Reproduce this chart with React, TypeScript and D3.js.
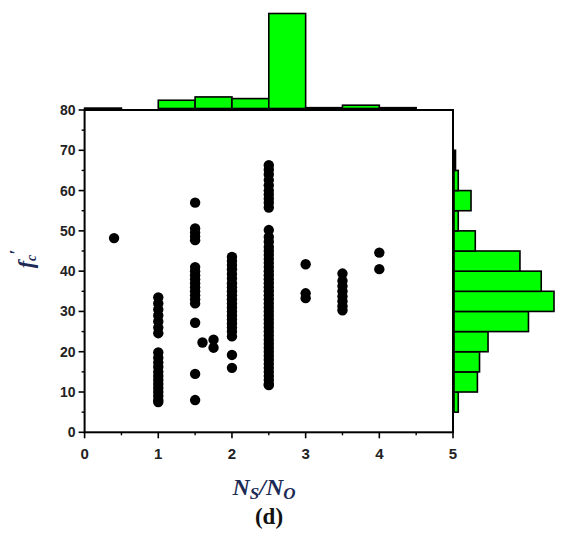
import React from "react";
import * as d3 from "d3";

// ---- data ----
const columnX = [0.4, 1, 1.5, 1.6, 1.75, 2, 2.5, 3, 3.5, 4];
const columnY: number[][] = [
  [48.2],
  [33.5, 32, 30.5, 29, 27.5, 26, 24.6, 19.8, 18.5, 17.3, 16.2, 15, 14, 13, 12, 11, 10, 9, 8, 7.5],
  [57, 50.6, 49.6, 48.6, 47.7, 41, 40, 39, 38, 37, 36, 35, 34, 33, 32, 27.2, 14.5, 8],
  [22.3],
  [23, 21],
  [43.5, 42.5, 41.5, 40.5, 39.3, 38.2, 37, 36, 35, 34, 33, 32, 31, 30, 29, 28, 27, 26, 25, 23.8, 19.2, 16],
  [66.3, 65.2, 64, 62.6, 61.3, 60, 59, 58, 57, 55.8, 50.2, 48.5, 47.3, 46, 45, 44, 43, 42, 41, 40, 39, 38, 37, 36, 35, 34, 33, 32, 31, 30, 29, 28, 27, 26, 25, 24, 23, 22, 21, 20, 19, 18, 17, 16, 15, 14, 13, 12, 11.7],
  [41.7, 34.5, 33.3],
  [39.4, 37.6, 36.3, 35, 33.7, 32.5, 31.3, 30.3],
  [44.6, 40.5],
];

const topBinEdges = [0, 0.5, 1, 1.5, 2, 2.5, 3, 3.5, 4, 4.5, 5];
const topCounts = [1, 0, 20, 28, 24, 230, 2, 8, 2, 0];

const rightBinEdges = [0, 5, 10, 15, 20, 25, 30, 35, 40, 45, 50, 55, 60, 65, 70, 75, 80];
const rightCounts = [0, 2, 11, 12, 16, 35, 47, 41, 31, 10, 2, 8, 2, 0.7, 0, 0];

const xTicks = [0, 1, 2, 3, 4, 5];
const xMinor = [0.5, 1.5, 2.5, 3.5, 4.5];
const yTicks = [0, 10, 20, 30, 40, 50, 60, 70, 80];
const yMinor = [5, 15, 25, 35, 45, 55, 65, 75];

// ---- layout ----
const W = 564;
const H = 539;
const L = 84.6;
const R = 453;
const T = 110;
const B = 432.3;

export default function App() {
  const x = d3.scaleLinear().domain([0, 5]).range([L, R]);
  const y = d3.scaleLinear().domain([0, 80]).range([B, T]);
  const topH = d3.scaleLinear().domain([0, 230]).range([0, 95]);
  const rightW = d3.scaleLinear().domain([0, 47]).range([0, 100]);

  const green = "#00FF00";
  const navy = "#1C2A55";

  return (
    <svg
      width={W}
      height={H}
      style={{ position: "absolute", left: 0, top: 0, background: "#fff" }}
    >
      {/* top histogram */}
      {topCounts.map((c, i) =>
        c > 0 ? (
          <rect
            key={"t" + i}
            x={x(topBinEdges[i])}
            y={T - 1.5 - topH(c)}
            width={x(topBinEdges[i + 1]) - x(topBinEdges[i])}
            height={topH(c)}
            fill={green}
            stroke="#000"
            strokeWidth={1.6}
          />
        ) : null
      )}
      {/* right histogram */}
      {rightCounts.map((c, i) =>
        c > 0 ? (
          <rect
            key={"r" + i}
            x={R + 1}
            y={y(rightBinEdges[i + 1])}
            width={rightW(c)}
            height={y(rightBinEdges[i]) - y(rightBinEdges[i + 1])}
            fill={green}
            stroke="#000"
            strokeWidth={1.6}
          />
        ) : null
      )}

      {/* frame */}
      <rect x={L} y={T} width={R - L} height={B - T} fill="none" stroke="#000" strokeWidth={2} />

      {/* scatter */}
      {columnX.map((cx, gi) =>
        columnY[gi].map((v, j) => (
          <circle key={gi + "-" + j} cx={x(cx)} cy={y(v)} r={5.2} fill="#000" />
        ))
      )}

      {/* y axis ticks */}
      {yTicks.map((t) => (
        <g key={"yt" + t}>
          <line x1={L - 6} x2={L} y1={y(t)} y2={y(t)} stroke="#000" strokeWidth={1.6} />
          <text
            x={L - 9}
            y={y(t)}
            dy="0.36em"
            textAnchor="end"
            fontFamily="Liberation Sans, Arial, sans-serif"
            fontWeight="bold"
            fontSize={14}
            fill="#222"
          >
            {t}
          </text>
        </g>
      ))}
      {yMinor.map((t) => (
        <line key={"ym" + t} x1={L - 3} x2={L} y1={y(t)} y2={y(t)} stroke="#000" strokeWidth={1.4} />
      ))}

      {/* x axis ticks */}
      {xTicks.map((t) => (
        <g key={"xt" + t}>
          <line x1={x(t)} x2={x(t)} y1={B} y2={B + 6} stroke="#000" strokeWidth={1.6} />
          <text
            x={x(t)}
            y={B + 27}
            textAnchor="middle"
            fontFamily="Liberation Sans, Arial, sans-serif"
            fontWeight="bold"
            fontSize={15}
            fill="#222"
          >
            {t}
          </text>
        </g>
      ))}
      {xMinor.map((t) => (
        <line key={"xm" + t} x1={x(t)} x2={x(t)} y1={B} y2={B + 3} stroke="#000" strokeWidth={1.4} />
      ))}

      {/* x title */}
      <text
        x={264}
        y={495}
        textAnchor="middle"
        fontFamily="Liberation Serif, Times New Roman, serif"
        fontStyle="italic"
        fontWeight="bold"
        fontSize={24}
        fill={navy}
      >
        N
        <tspan fontSize={17} dy={4}>S</tspan>
        <tspan dy={-4}>/N</tspan>
        <tspan fontSize={17} dy={4}>O</tspan>
      </text>
      <text
        x={269}
        y={524}
        textAnchor="middle"
        fontFamily="Liberation Serif, Times New Roman, serif"
        fontWeight="bold"
        fontSize={23}
        fill="#111"
      >
        (d)
      </text>

      {/* y title */}
      <text
        transform="translate(33,259) rotate(-90)"
        textAnchor="middle"
        fontFamily="Liberation Serif, Times New Roman, serif"
        fontStyle="italic"
        fontWeight="bold"
        fontSize={22}
        fill={navy}
      >
        f
        <tspan fontSize={14} dy={3}>c</tspan>
        <tspan fontSize={18} dy={-13}>′</tspan>
      </text>
    </svg>
  );
}
